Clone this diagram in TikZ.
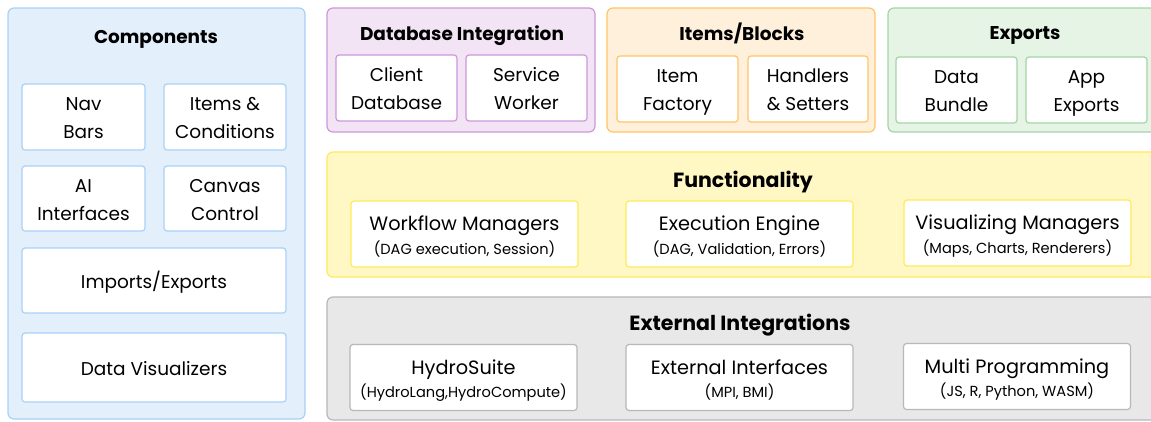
\documentclass[tikz,border=0pt]{standalone}
\usepackage{fontspec}
\setmainfont{Poppins}
\newcommand\lstrut{\rule[-6.4pt]{0pt}{28pt}}
\newcommand\wtext[2]{\rule{0pt}{21.9pt}#1\\{\fontsize{14.6}{16}\selectfont\rule[-5pt]{0pt}{5pt}#2}}
\usetikzlibrary{positioning}
\definecolor{compfill}{HTML}{E3EFFB}
\definecolor{compline}{HTML}{A8D1F7}
\definecolor{dbfill}{HTML}{F3E4F5}
\definecolor{dbline}{HTML}{CD97DA}
\definecolor{itemfill}{HTML}{FFF0DC}
\definecolor{itemline}{HTML}{FFC46A}
\definecolor{expfill}{HTML}{E5F4E5}
\definecolor{expline}{HTML}{A3D6A5}
\definecolor{funcfill}{HTML}{FFF8C4}
\definecolor{funcline}{HTML}{FFEB5A}
\definecolor{extfill}{HTML}{E8E8E8}
\definecolor{extline}{HTML}{B8B8B8}
\begin{document}
\begin{tikzpicture}[x=1pt,y=-1pt,line width=1.2pt,
  group/.style={draw,rounded corners=6pt,inner sep=0pt},
  part/.style={draw,fill=white,rounded corners=3pt,inner sep=0pt,align=center,
    font=\fontsize{18.5}{28}\selectfont},
  wide/.style={part,minimum width=227pt,minimum height=66pt,
    font=\fontsize{19.3}{23.5}\selectfont},
  title/.style={anchor=base,font=\bfseries\fontsize{18.5}{22}\selectfont},
  btitle/.style={anchor=base,font=\bfseries\fontsize{20.5}{24}\selectfont}]
\useasboundingbox (0,0) rectangle (1151,421);
\fill[white] (0,0) rectangle (1151,421);
% left column
\node[group,fill=compfill,draw=compline,minimum width=297pt,minimum height=411pt] (comp) at (156.5,213.5) {};
\node[title] (comptitle) at (156,43) {Components};
\node[part,draw=compline,minimum width=123pt,minimum height=66pt] (nav) at (83.5,117) {\lstrut Nav\\\lstrut Bars};
\node[part,draw=compline,minimum width=122pt,minimum height=66pt] (items) at (225,117) {\lstrut Items \&\\\lstrut Conditions};
\node[part,draw=compline,minimum width=123pt,minimum height=65pt] (ai) at (83.5,198.5) {\lstrut AI\\\lstrut Interfaces};
\node[part,draw=compline,minimum width=122pt,minimum height=65pt] (canvas) at (225,198.5) {\lstrut Canvas\\\lstrut Control};
\node[part,draw=compline,minimum width=264pt,minimum height=65pt] (imex) at (154,280.5) {\lstrut Imports/Exports};
\node[part,draw=compline,minimum width=264pt,minimum height=69pt] (dataviz) at (154,367.5) {\lstrut Data Visualizers};
% top row
\node[group,fill=dbfill,draw=dbline,minimum width=268pt,minimum height=124pt] (db) at (461,70) {};
\node[title] (dbtitle) at (462,40.5) {Database Integration};
\node[part,draw=dbline,minimum width=121pt,minimum height=66pt] (client) at (396.5,88) {\lstrut Client\\\lstrut Database};
\node[part,draw=dbline,minimum width=121pt,minimum height=66pt] (worker) at (526.5,88) {\lstrut Service\\\lstrut Worker};
\node[group,fill=itemfill,draw=itemline,minimum width=268pt,minimum height=124pt] (blocks) at (741,70) {};
\node[title] (blockstitle) at (742,40) {Items/Blocks};
\node[part,draw=itemline,minimum width=121pt,minimum height=66pt] (factory) at (677.5,89) {\lstrut Item\\\lstrut Factory};
\node[part,draw=itemline,minimum width=120pt,minimum height=66pt] (handlers) at (808,89) {\lstrut Handlers\\\lstrut \& Setters};
\node[group,fill=expfill,draw=expline,minimum width=272pt,minimum height=124pt] (exp) at (1024,70) {};
\node[title] (exptitle) at (1025,39.5) {Exports};
\node[part,draw=expline,minimum width=121pt,minimum height=66pt] (bundle) at (956.5,90) {\lstrut Data\\\lstrut Bundle};
\node[part,draw=expline,minimum width=121pt,minimum height=66pt] (appexp) at (1086.5,90) {\lstrut App\\\lstrut Exports};
% middle row
\node[group,fill=funcfill,draw=funcline,minimum width=836pt,minimum height=125pt] (func) at (745,214.5) {};
\node[btitle] (functitle) at (743,187.5) {Functionality};
\node[wide,draw=funcline] (workflow) at (464.5,234) {\wtext{Workflow Managers}{(DAG execution, Session)}};
\node[wide,draw=funcline] (engine) at (739.5,234) {\wtext{Execution Engine}{(DAG, Validation, Errors)}};
\node[wide,draw=funcline] (vizman) at (1017.5,233) {\wtext{Visualizing Managers}{(Maps, Charts, Renderers)}};
% bottom row
\node[group,fill=extfill,draw=extline,minimum width=836pt,minimum height=123pt] (ext) at (745,358.5) {};
\node[btitle] (exttitle) at (740,330.5) {External Integrations};
\node[wide,draw=extline] (hydro) at (463.5,377.5) {\wtext{HydroSuite}{(HydroLang,HydroCompute)}};
\node[wide,draw=extline] (extif) at (739.5,377.5) {\wtext{External Interfaces}{(MPI, BMI)}};
\node[wide,draw=extline] (multi) at (1017,376.5) {\wtext{Multi Programming}{(JS, R, Python, WASM)}};
\end{tikzpicture}
\end{document}
